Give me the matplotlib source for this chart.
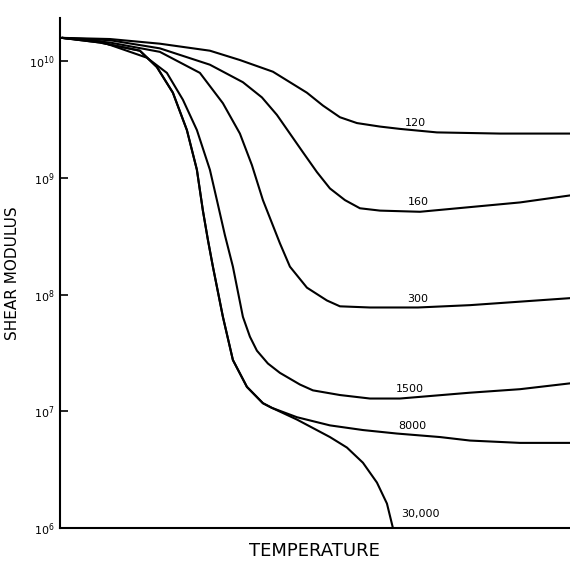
import numpy as np
import matplotlib.pyplot as plt

# temperature in arbitrary units (no scale on the original), modulus as log10
x_120 = [2, 50, 100, 150, 180, 213, 230, 247, 263, 280, 297, 320, 340, 377, 440, 510]
g_120 = [10.20, 10.19, 10.15, 10.09, 10.01, 9.91, 9.82, 9.73, 9.62, 9.52, 9.47, 9.44,
         9.42, 9.39, 9.38, 9.38]

x_160 = [2, 50, 100, 150, 183, 202, 217, 230, 243, 257, 270, 285, 300, 320, 360, 410, 460, 510]
g_160 = [10.20, 10.18, 10.11, 9.97, 9.82, 9.69, 9.54, 9.38, 9.22, 9.05, 8.91, 8.81,
         8.74, 8.72, 8.71, 8.75, 8.79, 8.85]

x_300 = [2, 50, 100, 140, 163, 180, 192, 203, 220, 230, 247, 267, 280, 310, 358, 410, 510]
g_300 = [10.20, 10.16, 10.08, 9.90, 9.64, 9.38, 9.11, 8.81, 8.44, 8.24, 8.06, 7.95,
         7.90, 7.89, 7.89, 7.91, 7.97]

x_1500 = [2, 40, 87, 107, 123, 137, 150, 157, 165, 173, 183, 190, 197, 208, 220, 240,
          253, 280, 310, 340, 410, 460, 510]
g_1500 = [10.20, 10.17, 10.03, 9.90, 9.67, 9.41, 9.07, 8.81, 8.51, 8.24, 7.81, 7.64,
          7.52, 7.41, 7.33, 7.23, 7.18, 7.14, 7.11, 7.11, 7.16, 7.19, 7.24]

x_8000 = [2, 40, 80, 97, 113, 127, 137, 143, 148, 153, 163, 173, 187, 203, 212,
          237, 270, 303, 337, 380, 410, 460, 510]
g_8000 = [10.20, 10.16, 10.09, 9.95, 9.73, 9.41, 9.07, 8.72, 8.47, 8.24, 7.81, 7.44,
          7.21, 7.07, 7.03, 6.95, 6.88, 6.84, 6.81, 6.78, 6.75, 6.73, 6.73]

x_30000 = [2, 40, 80, 97, 113, 127, 137, 143, 148, 153, 163, 173, 187, 203, 212,
           237, 270, 287, 303, 317, 327, 333]
g_30000 = [10.20, 10.16, 10.09, 9.95, 9.73, 9.41, 9.07, 8.72, 8.47, 8.24, 7.81, 7.44,
           7.21, 7.07, 7.03, 6.93, 6.78, 6.69, 6.56, 6.39, 6.21, 6.00]

curve_labels = ["120", "160", "300", "1500", "8000", "30,000"]
ytick_exp = [6, 7, 8, 9, 10]

curves = [(x_120, g_120), (x_160, g_160), (x_300, g_300),
          (x_1500, g_1500), (x_8000, g_8000), (x_30000, g_30000)]
# where each label sits (x, log10 G of its baseline)
label_pos = [(355, 9.43), (358, 8.75), (358, 7.92), (350, 7.15), (352, 6.83), (360, 6.08)]

fig = plt.figure(figsize=(5.7, 5.63), dpi=100)
ax = fig.add_axes([0.105, 0.062, 0.895, 0.906])

for (xs, gs) in curves:
    ax.plot(xs, 10 ** np.array(gs), color="black", lw=1.5,
            solid_joinstyle="round", solid_capstyle="round")

for lab, (lx, lg) in zip(curve_labels, label_pos):
    ax.text(lx, 10 ** lg, lab, fontsize=8, ha="center", va="bottom")

ax.set_yscale("log")
ax.set_xlim(0, 510)
ax.set_ylim(1e6, 10 ** 10.37)
ax.set_yticks([10.0 ** e for e in ytick_exp])
ax.set_yticklabels([r"$10^{%d}$" % e for e in ytick_exp], fontsize=8)
ax.yaxis.set_minor_locator(plt.NullLocator())
ax.tick_params(axis="y", direction="in", length=6, width=1.2, pad=4)
ax.set_xticks([])

for side in ["top", "right"]:
    ax.spines[side].set_visible(False)
for side in ["left", "bottom"]:
    ax.spines[side].set_linewidth(1.5)

ax.set_xlabel("TEMPERATURE", fontsize=13, labelpad=10)
ax.set_ylabel("SHEAR MODULUS", fontsize=11)
ax.yaxis.set_label_coords(-0.078, 0.5)

fig.savefig("out.png", dpi=100)
